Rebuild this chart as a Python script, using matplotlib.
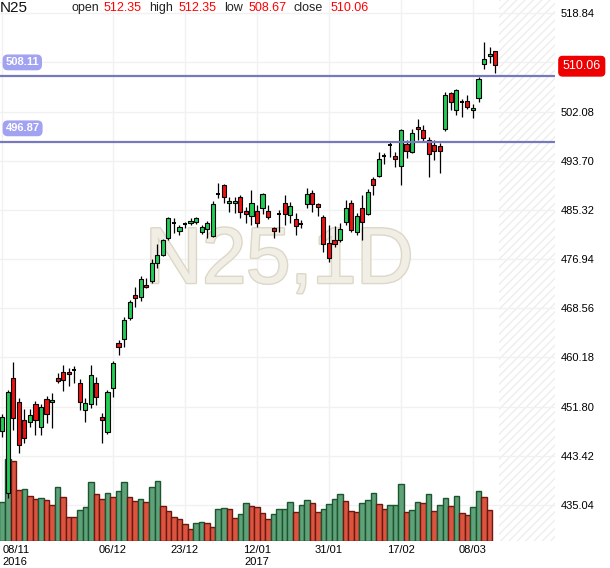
import numpy as np
import matplotlib
matplotlib.use("Agg")
import matplotlib.pyplot as plt
import matplotlib.transforms as mtransforms
import matplotlib.patheffects as pe
from matplotlib.patches import Rectangle

plt.rcParams['font.family'] = ['Liberation Sans', 'DejaVu Sans']

# daily candles (index 0 = 08/11/2016)
opens = [447.65, 437.09, 456.69, 452.60, 449.53, 449.19, 452.26, 448.34, 453.11, 452.60,
         456.69, 457.71, 457.71, 458.00, 455.83, 451.23, 452.26, 455.83, 450.04, 447.48,
         454.98, 462.65, 463.33, 466.91, 470.83, 470.49, 472.54, 473.22, 476.29, 477.65,
         480.55, 483.11, 481.74, 482.94, 483.11, 483.28, 481.57, 482.08, 480.89, 488.05,
         489.58, 486.52, 486.52, 487.54, 485.15, 484.30, 485.15, 485.66, 485.15, 482.25,
         484.64, 486.52, 484.47, 483.79, 482.94, 486.35, 488.22, 486.35, 484.13, 479.70,
         480.21, 480.21, 483.28, 486.52, 481.57, 485.66, 484.64, 490.61, 491.12, 494.53,
         496.40, 494.53, 492.82, 496.57, 495.21, 499.47, 498.96, 497.25, 496.40, 496.23,
         499.13, 505.27, 502.37, 503.73, 503.90, 502.37, 504.41, 510.21, 511.57, 512.35]
highs = [450.55, 454.64, 459.41, 453.28, 451.40, 451.40, 452.77, 452.26, 453.62, 454.13,
         457.54, 458.90, 458.39, 458.73, 456.52, 453.28, 458.90, 456.86, 450.72, 454.64,
         459.58, 463.16, 467.08, 469.98, 472.20, 474.07, 473.73, 476.97, 479.53, 480.38,
         484.13, 483.96, 482.77, 483.28, 483.96, 484.13, 482.77, 483.45, 486.86, 489.92,
         489.75, 487.54, 487.54, 487.88, 485.83, 488.73, 486.18, 488.22, 486.18, 482.42,
         485.32, 487.88, 486.69, 484.81, 483.62, 489.07, 488.73, 486.52, 484.47, 482.77,
         482.60, 483.11, 487.03, 487.03, 484.81, 487.88, 488.90, 490.95, 495.21, 495.04,
         496.91, 495.21, 499.10, 497.25, 499.13, 500.83, 499.81, 497.76, 497.25, 496.74,
         505.44, 505.44, 505.90, 504.24, 504.92, 503.39, 507.99, 513.96, 513.11, 512.35]
lows = [446.63, 436.23, 447.82, 443.90, 445.61, 448.34, 446.97, 446.97, 449.02, 448.16,
        455.83, 454.47, 455.32, 455.83, 451.23, 449.19, 451.57, 452.09, 445.61, 447.14,
        453.45, 460.61, 461.97, 466.57, 468.79, 469.81, 472.03, 472.88, 475.44, 477.48,
        480.21, 481.40, 481.06, 482.25, 482.77, 482.94, 481.23, 480.55, 480.72, 487.37,
        486.52, 484.98, 484.81, 483.96, 483.11, 482.77, 482.43, 484.64, 483.79, 480.55,
        481.57, 482.77, 483.11, 481.06, 482.25, 485.66, 484.98, 484.30, 478.16, 476.46,
        479.02, 479.87, 482.77, 481.57, 481.06, 480.21, 484.47, 487.88, 490.95, 493.16,
        494.36, 492.65, 489.58, 494.19, 495.04, 497.25, 496.91, 490.95, 493.84, 491.63,
        498.79, 502.37, 501.52, 501.17, 502.54, 501.00, 503.73, 509.36, 510.38, 508.67]
closes = [450.04, 454.30, 449.87, 445.27, 446.46, 450.38, 449.53, 451.74, 450.55, 452.94,
          456.18, 456.35, 457.37, 458.00, 452.60, 452.43, 457.20, 453.45, 449.53, 454.30,
          459.24, 461.97, 466.57, 469.64, 470.32, 473.56, 472.20, 476.29, 477.65, 480.21,
          483.96, 483.11, 482.43, 482.94, 483.45, 483.96, 482.43, 483.11, 486.35, 488.05,
          487.54, 486.86, 486.86, 484.98, 484.64, 486.52, 483.11, 488.05, 484.13, 481.74,
          484.64, 484.64, 486.00, 482.60, 482.94, 488.05, 486.35, 485.83, 479.53, 477.14,
          479.53, 482.08, 485.66, 481.91, 484.30, 483.28, 488.39, 489.58, 494.02, 494.53,
          496.40, 494.02, 498.96, 495.38, 498.45, 499.13, 497.60, 494.87, 495.38, 495.38,
          504.92, 503.73, 505.78, 503.73, 502.88, 502.71, 507.65, 511.06, 511.91, 510.06]

# volume (arbitrary units), last session has no bar
volumes = [39, 82, 80, 51, 52, 45, 42, 43, 41, 36,
           54, 44, 24, 24, 31, 34, 59, 47, 42, 48,
           44, 50, 59, 44, 40, 42, 39, 54, 60, 35,
           30, 24, 22, 17, 12, 18, 19, 18, 14, 32,
           33, 32, 23, 27, 38, 35, 34, 28, 22, 27,
           32, 32, 39, 29, 36, 41, 38, 29, 32, 37,
           42, 47, 40, 30, 29, 38, 41, 48, 37, 32,
           36, 36, 57, 29, 31, 39, 38, 47, 30, 36,
           43, 35, 45, 28, 26, 34, 50, 44, 31]
vol_dir = list("ggrrgrrgrr" "grrrgggrrg" "rggrrgrggr" "rrrrrggrrg" "grrggrrrrg"
               "gggrggrrgg" "ggrrrgggrr" "gggrggrgrg" "grgrrggrr")

date_pos = [0, 20, 33, 46, 59, 72, 85]
date_labels = ['08/11\n2016', '06/12', '23/12', '12/01\n2017', '31/01', '17/02', '08/03']
price_ticks = [435.04, 443.42, 451.80, 460.18, 468.56, 476.94, 485.32, 493.70,
               502.08, 510.46, 518.84]
levels = [508.11, 496.87]

symbol = 'N25'
last = dict(open=512.35, high=512.35, low=508.67, close=510.06)

fig = plt.figure(figsize=(6.1, 5.68), dpi=100)
ax = fig.add_axes([0, 27/568, 555/610, 541/568])
ax.set_xlim(-0.404, 99.81)
ax.set_ylim(428.90, 521.11)
for s in ax.spines.values():
    s.set_visible(False)

# the tick under the last-price tag stays as a grid line only
ax.set_yticks(price_ticks)
ax.set_yticklabels(['' if abs(v - 510.46) < 0.01 else '%.2f' % v for v in price_ticks])
ax.yaxis.tick_right()
ax.set_xticks(date_pos)
ax.set_xticklabels(date_labels)
ax.tick_params(axis='both', length=0, labelsize=8, colors='black')
ax.tick_params(axis='y', pad=4)
ax.tick_params(axis='x', pad=3)
lbls = ax.get_xticklabels()
lbls[0].set_ha('left')
ax.grid(True, color='#f1f1f1', lw=1, zorder=0)
ax.set_axisbelow(True)

# future area
ax.axvspan(89.7, 99.81, facecolor='none', hatch='////', edgecolor='#eeeeee', lw=0, zorder=0)

# watermark
ax.text(0.503, 0.515, 'N25,1D', transform=ax.transAxes, ha='center', va='center',
        fontsize=57, color='#f1eee6', zorder=1,
        path_effects=[pe.withStroke(linewidth=2, foreground='#ddd7c6')])

# volume bars, bottom of the panel
vtrans = mtransforms.blended_transform_factory(
    ax.transData, mtransforms.Affine2D().scale(1, 1/541.) + ax.transAxes)
for i, v in enumerate(volumes):
    if vol_dir[i] == 'g':
        fc, ec = '#5fa27a', '#1c5530'
    else:
        fc, ec = '#da543f', '#6a1810'
    ax.add_patch(Rectangle((i - 0.5, 0), 1.0, v, transform=vtrans,
                           facecolor=fc, edgecolor=ec, lw=1.0, zorder=2))

# candles
w = 0.74
for i in range(len(opens)):
    o, h, l, c = opens[i], highs[i], lows[i], closes[i]
    ax.vlines(i, l, h, color='black', lw=0.9, zorder=3)
    if abs(c - o) < 0.05:
        ax.hlines(o, i - w/2, i + w/2, color='black', lw=1.4, zorder=4)
        continue
    col = '#22cc55' if c > o else '#ee1111'
    ax.add_patch(Rectangle((i - w/2, min(o, c)), w, abs(c - o),
                           facecolor=col, edgecolor='black', lw=0.8, zorder=4))

# horizontal levels
for lv in levels:
    ax.axhline(lv, color='#7878bd', lw=1.6, zorder=5)
    ax.annotate('%.2f' % lv, xy=(0.0, lv), xycoords=ax.get_yaxis_transform(),
                xytext=(4, 10), textcoords='offset points', ha='left', va='center',
                fontsize=8, color='white', fontweight='bold', zorder=6,
                bbox=dict(boxstyle='round,pad=0.2,rounding_size=0.4', fc='#a2a2f2', ec='#a2a2f2'))

# last price tag
ax.annotate('%.2f' % last['close'], xy=(1.0, last['close']), xycoords=ax.get_yaxis_transform(),
            xytext=(5.5, -1), textcoords='offset points', ha='left', va='center',
            fontsize=9, color='white', zorder=6, annotation_clip=False,
            bbox=dict(boxstyle='round,pad=0.3,rounding_size=0.3', fc='#ee0000', ec='#ee0000'))

# header
H = 568.
fig.text(0 / 610, (H - 12.5) / H, symbol, fontsize=11, color='#111111', va='baseline')
hx = [71, 104, 149, 179, 224, 249, 294, 331]
items = ['open', '%.2f' % last['open'], 'high', '%.2f' % last['high'],
         'low', '%.2f' % last['low'], 'close', '%.2f' % last['close']]
for k, (x, t) in enumerate(zip(hx, items)):
    fig.text(x / 610., (H - 11) / H, t, fontsize=9, va='baseline',
             color='#222222' if k % 2 == 0 else '#ff0000')

fig.savefig('out.png', dpi=100)
